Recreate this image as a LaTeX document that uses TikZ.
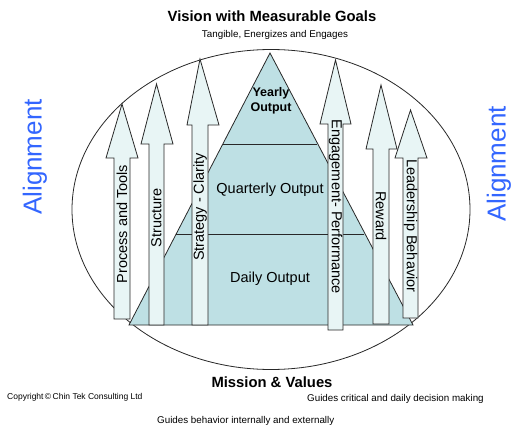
\documentclass[tikz,border=0pt]{standalone}
\usepackage{fontspec}
\setmainfont{Liberation Sans}
\definecolor{pyr}{RGB}{190,224,228}
\definecolor{arr}{RGB}{232,245,245}
\definecolor{alignblue}{RGB}{51,102,255}
\definecolor{edge}{RGB}{40,40,40}
\newcommand\fatarrow[7]{\filldraw[fill=arr,draw=edge,line width=0.8pt,line join=miter] (#1,#3) -- (#1,#4) -- (#5,#4) -- ({(#1+#2)/2},#7) -- (#6,#4) -- (#2,#4) -- (#2,#3) -- cycle;}
\begin{document}
\begin{tikzpicture}[x=1pt,y=-1pt,
  lbl/.style={font=\fontsize{14.5}{16}\selectfont,inner sep=0pt},
  small/.style={font=\fontsize{9.8}{11}\selectfont,inner sep=0pt},
  ttl/.style={font=\fontsize{14.8}{16}\selectfont\bfseries,inner sep=0pt},
  algn/.style={font=\fontsize{26}{28}\selectfont,text=alignblue,inner sep=0pt}]
\useasboundingbox (0,0) rectangle (522,431);
\fill[white] (0,0) rectangle (522,431);
% ellipse
\draw[edge,line width=0.8pt] (271,209.5) ellipse [x radius=199, y radius=160];
% pyramid
\filldraw[fill=pyr,draw=edge,line width=0.8pt] (270,53) -- (413,325) -- (129,325) -- cycle;
\draw[edge,line width=0.9pt] (176,234) -- (364,234);
\draw[edge,line width=0.9pt] (222.8,144) -- (317.2,144);
\node[font=\fontsize{12.5}{14.5}\selectfont\bfseries,align=center,inner sep=0pt] (yo) at (271,101) {Yearly\\Output};
\node[lbl] (qo) at (270,190) {Quarterly Output};
\node[lbl] (do) at (270,279) {Daily Output};
% arrows
\fatarrow{114}{130}{319}{158}{106}{138}{104}
\fatarrow{149}{164}{325}{144}{141}{173}{84}
\fatarrow{192}{208}{325}{125}{187}{219}{59}
\fatarrow{328}{343}{330}{124}{320}{351}{60}
\fatarrow{373}{389}{324}{149}{366}{397}{85}
\fatarrow{403}{418}{318}{158}{395}{427}{110}
\node[lbl,rotate=90] (pt) at (122,224) {Process and Tools};
\node[lbl,rotate=90] (st) at (156.5,218) {Structure};
\node[lbl,rotate=90] (sc) at (200,207) {Strategy - Clarity};
\node[lbl,rotate=-90] (ep) at (335.5,207) {Engagement- Performance};
\node[lbl,rotate=-90] (rw) at (381,216) {Reward};
\node[lbl,rotate=-90] (lb) at (410.5,226) {Leadership Behavior};
% alignment
\node[algn,rotate=90] (al) at (35,157) {Alignment};
\node[algn,rotate=90] (ar) at (499,164) {Alignment};
% titles
\node[ttl] (vt) at (272,16) {Vision with Measurable Goals};
\node[small] (tg) at (275,35) {Tangible, Energizes and Engages};
\node[ttl] (mv) at (272,382) {Mission \& Values};
\node[font=\fontsize{8.5}{9}\selectfont,inner sep=0pt,anchor=west] (cp) at (7,397) {Copyright\,©\,Chin Tek Consulting Ltd};
\node[small,anchor=west] (gc) at (307,399) {Guides critical and daily decision making};
\node[small,anchor=west] (gb) at (157,421) {Guides behavior internally and externally};
\end{tikzpicture}
\end{document}
